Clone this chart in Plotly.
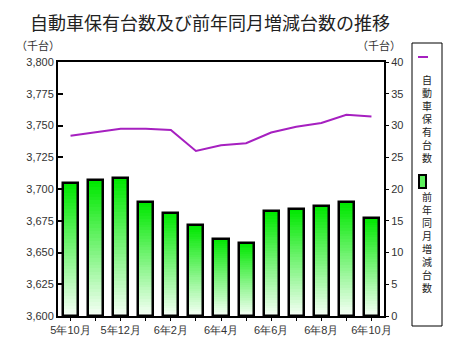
import plotly.graph_objects as go

months = ["5年10月", "5年11月", "5年12月", "6年1月", "6年2月", "6年3月", "6年4月",
          "6年5月", "6年6月", "6年7月", "6年8月", "6年9月", "6年10月"]
tick_labels = ["5年10月", "", "5年12月", "", "6年2月", "", "6年4月",
               "", "6年6月", "", "6年8月", "", "6年10月"]
holdings = [3742, 3745, 3747.5, 3747.5, 3746.5, 3730, 3734.5, 3736, 3744.5, 3749, 3752, 3758.5, 3757]
yoy_change = [21.0, 21.4, 21.8, 18.0, 16.3, 14.3, 12.2, 11.5, 16.5, 16.9, 17.4, 17.9, 15.5]

LINE_COLOR = "#a620c0"

xs = list(range(len(months)))
fig = go.Figure()

# gradient bars: overlaid shrinking bars from bright green (top) to near white (bottom)
N = 40
c_top = (0, 232, 0)
c_bot = (244, 255, 244)
for k in range(N):
    t = k / (N - 1)
    col = tuple(round(c_top[i] + (c_bot[i] - c_top[i]) * t) for i in range(3))
    frac = (N - k) / N
    fig.add_trace(go.Bar(
        x=xs, y=[v * frac for v in yoy_change], yaxis="y2", width=0.6,
        marker=dict(color="rgb(%d,%d,%d)" % col, line=dict(width=0)),
        showlegend=False, hoverinfo="skip"))
# outline
fig.add_trace(go.Bar(
    x=xs, y=yoy_change, yaxis="y2", width=0.6, name="前年同月増減台数",
    marker=dict(color="rgba(0,0,0,0)", line=dict(color="black", width=2.5)),
    showlegend=False))

fig.add_trace(go.Scatter(
    x=xs, y=holdings, mode="lines", name="自動車保有台数",
    line=dict(color=LINE_COLOR, width=2), showlegend=False))

# the page body has an 8px margin, so the figure is sized/offset to compensate
W, H = 462, 353
ML, MR, MT, MB = 50, 86, 54, 45
PW, PH = W - ML - MR, H - MT - MB
OFF = 8

font_lat = "Liberation Sans, Arial, sans-serif"
cjk = "Noto Sans CJK JP"
fig.update_layout(
    width=W, height=H,
    margin=dict(l=ML, r=MR, t=MT, b=MB),
    paper_bgcolor="white", plot_bgcolor="white",
    barmode="overlay", bargap=0,
    showlegend=False,
    xaxis=dict(range=[-0.5, 12.5], tickmode="array", tickvals=xs, ticktext=tick_labels,
               ticks="outside", ticklen=3, tickwidth=1, tickcolor="black",
               showline=True, linecolor="black", linewidth=2, mirror=True,
               showgrid=False, zeroline=False,
               tickfont=dict(family=font_lat, size=11, color="#333")),
    yaxis=dict(range=[3600, 3800], tickvals=list(range(3600, 3801, 25)), tickformat=",d",
               ticks="inside", ticklen=5, tickwidth=2, tickcolor="black",
               showline=True, linecolor="black", linewidth=2,
               showgrid=False, zeroline=False,
               tickfont=dict(family=font_lat, size=11, color="#333")),
    yaxis2=dict(range=[0, 40], tickvals=list(range(0, 41, 5)), overlaying="y", side="right",
                ticks="outside", ticklen=3, tickwidth=1, tickcolor="black",
                showline=True, linecolor="black", linewidth=2,
                showgrid=False, zeroline=False, ticklabelstandoff=0,
                tickfont=dict(family=font_lat, size=11, color="#333")),
)

def pxx(wx):
    return (wx - OFF - ML) / PW

def pxy(wy):
    return (H - (wy - OFF) - MB) / PH

def note(text, wx, wy, size, color="#333"):
    return dict(text=text, x=pxx(wx), y=pxy(wy), xref="paper", yref="paper",
                xanchor="center", yanchor="middle", showarrow=False,
                font=dict(family=cjk, size=size, color=color))

ann = [
    note("自動車保有台数及び前年同月増減台数の推移", 210, 22, 18, "#222"),
    note("（千台）", 38, 45, 11),
    note("（千台）", 379, 45, 11),
    note("<br>".join("自動車保有台数"), 427, 118, 10, "#222"),
    note("<br>".join("前年同月増減台数"), 427, 242, 10, "#222"),
]
fig.update_layout(annotations=ann)

def rect(x0, y0, x1, y1):
    return dict(x0=pxx(x0), x1=pxx(x1), y0=pxy(y0), y1=pxy(y1), xref="paper", yref="paper")

shapes = [
    dict(type="rect", line=dict(color="black", width=1),
         fillcolor="rgba(0,0,0,0)", **rect(412, 43, 442, 326)),
    dict(type="line", line=dict(color=LINE_COLOR, width=2), **rect(418, 57, 428, 57)),
    dict(type="rect", line=dict(color="black", width=2),
         fillcolor="#5cf05c", **rect(419, 175, 426, 188)),
]
fig.update_layout(shapes=shapes)

fig.write_html("out.html")
